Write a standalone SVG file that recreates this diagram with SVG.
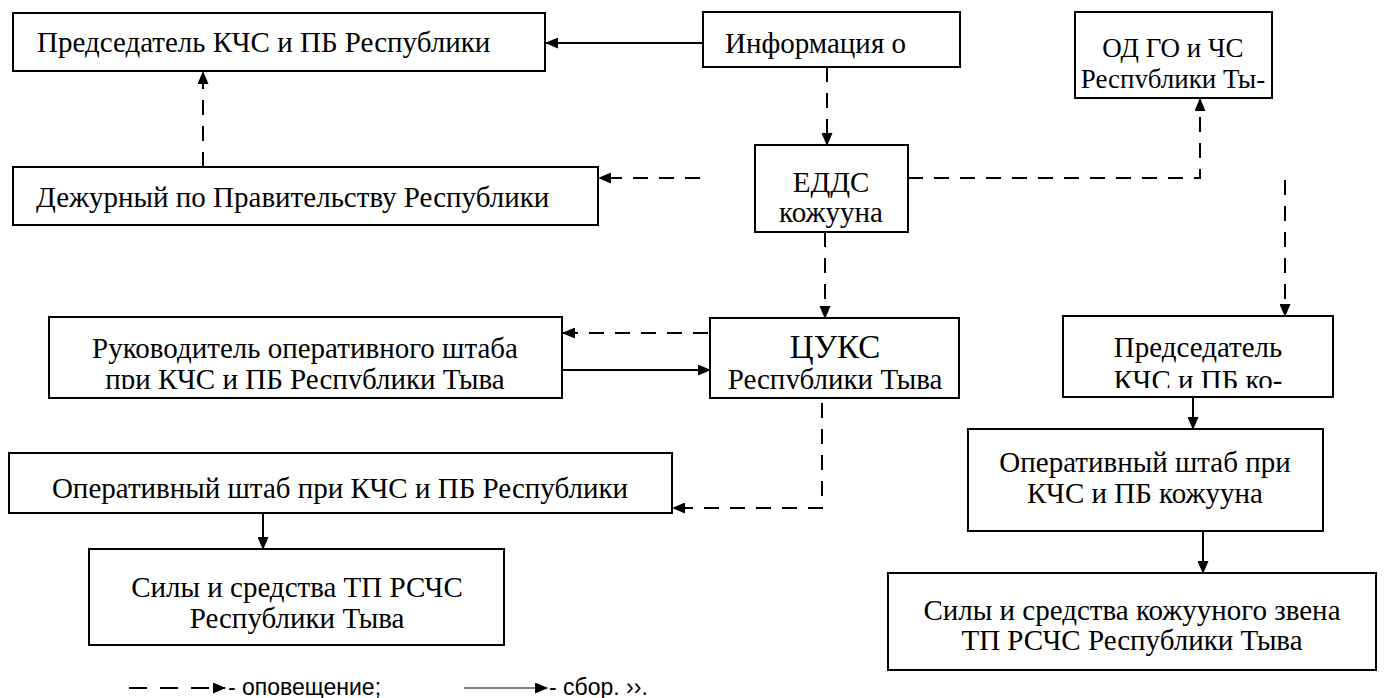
<svg xmlns="http://www.w3.org/2000/svg" width="1385" height="698" viewBox="0 0 1385 698">
<style>
.box{fill:#fff;stroke:#000;stroke-width:2}
.t{font-family:"Liberation Serif","Times New Roman",serif;font-size:29px;fill:#000}
.c{text-anchor:middle}
.solid{fill:none;stroke:#000;stroke-width:2;marker-end:url(#ah)}
.dash{fill:none;stroke:#000;stroke-width:2;stroke-dasharray:15 11;marker-end:url(#ah)}
.leg{font-family:"Liberation Sans",Arial,sans-serif;font-size:23px;fill:#000}
</style>
<defs>
<marker id="ah" markerUnits="userSpaceOnUse" markerWidth="13" markerHeight="11" refX="12" refY="5.5" orient="auto">
<path d="M0,0 L13,5.5 L0,11 z" fill="#000"/>
</marker>
<clipPath id="clipOD"><rect x="1075" y="12" width="197" height="76"/></clipPath>
<clipPath id="clipRuk"><rect x="49" y="317" width="513" height="72"/></clipPath>
<clipPath id="clipCUKS"><rect x="710" y="318" width="249" height="71"/></clipPath>
<clipPath id="clipPredK"><rect x="1063" y="316" width="270" height="72"/></clipPath>
</defs>
<rect width="1385" height="698" fill="#fff"/>

<g id="connectors">
<path class="solid" d="M703,43 L546,43"/>
<path class="dash" d="M203,167 L203,72"/>
<path class="dash" d="M827,67 L827,145"/>
<path class="dash" d="M700,178 L599,178"/>
<path class="dash" d="M908,178 L1200,178 L1200,99"/>
<path class="dash" d="M1285,180 L1285,316"/>
<path class="dash" d="M825,232 L825,318"/>
<path class="dash" d="M708,333 L563,333"/>
<path class="solid" d="M563,370 L710,370"/>
<path class="dash" d="M822,403 L822,508 L673,508"/>
<path class="solid" d="M263,503 L263,549"/>
<path class="solid" d="M1193,390 L1193,429"/>
<path class="solid" d="M1203,524 L1203,573"/>
</g>

<g id="n-pred-resp">
<rect class="box" x="13" y="13" width="532" height="58"/>
<text class="t" x="37" y="52">Председатель КЧС и ПБ Республики</text>
</g>
<g id="n-info">
<rect class="box" x="703" y="12" width="257" height="55"/>
<text class="t" x="725" y="53">Информация о</text>
</g>
<g id="n-od">
<rect class="box" x="1075" y="12" width="197" height="86"/>
<g clip-path="url(#clipOD)">
<text class="t c" x="1173" y="57" style="font-size:27px">ОД ГО и ЧС</text>
<text class="t c" x="1173" y="88" style="font-size:27px">Республики Ты-</text>
</g>
</g>
<g id="n-dezh">
<rect class="box" x="13" y="167" width="585" height="58"/>
<text class="t" x="36" y="207">Дежурный по Правительству Республики</text>
</g>
<g id="n-edds">
<rect class="box" x="755" y="145" width="153" height="87"/>
<text class="t c" x="831" y="192">ЕДДС</text>
<text class="t c" x="831" y="222">кожууна</text>
</g>
<g id="n-ruk">
<rect class="box" x="49" y="317" width="513" height="81"/>
<g clip-path="url(#clipRuk)">
<text class="t c" x="305" y="358">Руководитель оперативного штаба</text>
<text class="t c" x="305" y="389">при КЧС и ПБ Республики Тыва</text>
</g>
</g>
<g id="n-cuks">
<rect class="box" x="710" y="318" width="249" height="80"/>
<g clip-path="url(#clipCUKS)">
<text class="t c" x="835" y="358" style="font-size:33px">ЦУКС</text>
<text class="t c" x="835" y="389">Республики Тыва</text>
</g>
</g>
<g id="n-pred-kozh">
<rect class="box" x="1063" y="316" width="270" height="81"/>
<g clip-path="url(#clipPredK)">
<text class="t c" x="1198" y="357">Председатель</text>
<text class="t c" x="1198" y="390">КЧС и ПБ ко-</text>
</g>
</g>
<g id="n-op-resp">
<rect class="box" x="9" y="453" width="663" height="60"/>
<text class="t c" x="340" y="498">Оперативный штаб при КЧС и ПБ Республики</text>
</g>
<g id="n-op-kozh">
<rect class="box" x="968" y="429" width="355" height="102"/>
<text class="t c" x="1145" y="472">Оперативный штаб при</text>
<text class="t c" x="1145" y="503">КЧС и ПБ кожууна</text>
</g>
<g id="n-sily-tp">
<rect class="box" x="89" y="549" width="415" height="96"/>
<text class="t c" x="297" y="597">Силы и средства ТП РСЧС</text>
<text class="t c" x="297" y="628">Республики Тыва</text>
</g>
<g id="n-sily-kozh">
<rect class="box" x="888" y="573" width="488" height="97"/>
<text class="t c" x="1132" y="620">Силы и средства кожууного звена</text>
<text class="t c" x="1132" y="650">ТП РСЧС Республики Тыва</text>
</g>

<g id="legend">
<path class="dash" d="M129,688 L225,688" style="stroke-dasharray:18 13"/>
<text class="leg" x="228" y="695">- оповещение;</text>
<path class="solid" d="M464,688 L547,688" style="stroke-width:1.2"/>
<text class="leg" x="549" y="695">- сбор. ››.</text>
</g>
</svg>
